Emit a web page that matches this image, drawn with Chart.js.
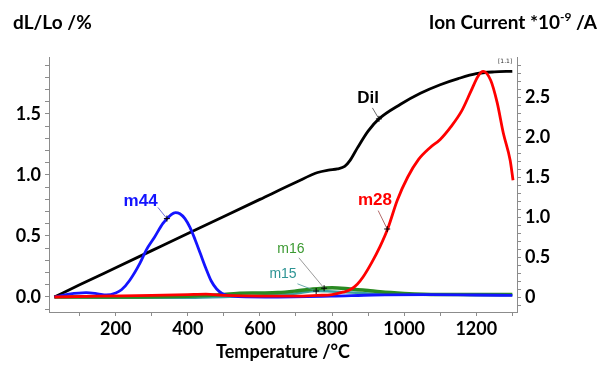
<!DOCTYPE html>
<html>
<head>
<meta charset="utf-8">
<script src="https://cdn.jsdelivr.net/npm/chart.js@4.4.1/dist/chart.umd.min.js"></script>
<style>
	html, body { margin: 0; padding: 0; background: #fff; }
	#wrap { width: 606px; height: 367px; }
</style>
</head>
<body>
<div id="wrap"><canvas id="chart"></canvas></div>
<script>
// Dilatometer curve, left axis (dL/Lo %)
const dilTemp = [30, 100, 200, 300, 400, 500, 600, 700, 760, 790, 815, 835, 850, 870, 900, 930, 990, 1045, 1100, 1150, 1200, 1250, 1300];
const dilValue = [0, 0.1, 0.24, 0.38, 0.52, 0.66, 0.8, 0.94, 1.02, 1.04, 1.05, 1.07, 1.12, 1.22, 1.36, 1.46, 1.58, 1.67, 1.74, 1.79, 1.83, 1.845, 1.85];

// Ion currents, right axis (*10^-9 A)
const m44Temp = [30, 70, 118, 150, 174, 200, 216, 239, 267, 285, 308, 331, 354, 366, 378, 392, 406, 420, 435, 450, 465, 480, 495, 512, 540, 650, 800, 914, 1072, 1200, 1300];
const m44Value = [0, 0.035, 0.054, 0.04, 0.025, 0.05, 0.09, 0.21, 0.42, 0.59, 0.75, 0.92, 1.03, 1.055, 1.04, 0.98, 0.87, 0.72, 0.54, 0.36, 0.2, 0.1, 0.045, 0.02, 0.005, 0.0, 0.01, 0.025, 0.03, 0.025, 0.02];

const m28Temp = [30, 150, 300, 400, 450, 500, 600, 700, 760, 800, 830, 850, 870, 886, 910, 933, 955, 981, 1010, 1040, 1070, 1100, 1130, 1160, 1185, 1205, 1219, 1240, 1258, 1275, 1294, 1302];
const m28Value = [0, 0.01, 0.02, 0.03, 0.035, 0.02, 0.01, 0.01, 0.02, 0.03, 0.06, 0.09, 0.16, 0.25, 0.43, 0.63, 0.86, 1.21, 1.5, 1.72, 1.86, 1.97, 2.13, 2.33, 2.57, 2.76, 2.82, 2.71, 2.43, 2.05, 1.71, 1.46];

const m16Temp = [30, 200, 400, 500, 536, 600, 650, 700, 747, 777, 800, 850, 900, 933, 1000, 1053, 1150, 1250, 1300];
const m16Value = [0, 0.0, 0.01, 0.03, 0.045, 0.05, 0.055, 0.075, 0.1, 0.11, 0.115, 0.1, 0.08, 0.065, 0.045, 0.035, 0.03, 0.03, 0.03];

const m15Temp = [30, 200, 400, 500, 600, 700, 756, 800, 900, 1000, 1100, 1200, 1300];
const m15Value = [0, -0.01, -0.01, 0.0, 0.02, 0.045, 0.075, 0.07, 0.045, 0.03, 0.03, 0.025, 0.025];

// Tick labels
const xMajor = [200, 400, 600, 800, 1000, 1200];
const xLabels = ["200", "400", "600", "800", "1000", "1200"];
const leftMajor = [0, 0.5, 1.0, 1.5];
const leftLabels = ["0.0", "0.5", "1.0", "1.5"];
const rightMajor = [0, 0.5, 1.0, 1.5, 2.0, 2.5];
const rightLabels = ["0", "0.5", "1.0", "1.5", "2.0", "2.5"];

// Curve labels with leader lines: [label point], [line start], [marker on curve]
const notes = [
	{ text: "Dil", color: "#000000", font: 'bold 17px "Liberation Sans"', axis: "yL", at: [900, 1.63], from: [912, 1.55], to: [930, 1.46], lead: "#444444" },
	{ text: "m44", color: "#1414ff", font: 'bold 17px "Liberation Sans"', axis: "yR", at: [269, 1.2], from: [317, 1.12], to: [342, 0.98], lead: "#4a4ad0" },
	{ text: "m28", color: "#ff0000", font: 'bold 17px "Liberation Sans"', axis: "yR", at: [919, 1.21], from: [928, 1.08], to: [953, 0.85], lead: "#a04848" },
	{ text: "m16", color: "#3c9a32", font: '14px "Liberation Sans"', axis: "yR", at: [686, 0.6], from: [708, 0.49], to: [778, 0.11], lead: "#808080" },
	{ text: "m15", color: "#2e9494", font: '14px "Liberation Sans"', axis: "yR", at: [664, 0.29], from: [704, 0.165], to: [756, 0.075], lead: "#4a9a9a" },
];

const TICK_FONT = { family: "Lato", size: 18, weight: "bold" };
const AXIS_GREY = "#8c8c8c";

const toPoints = (xs, ys) => xs.map((x, i) => ({ x, y: ys[i] }));

const labelFor = (majors, labels) => (value) => {
	const i = majors.findIndex((m) => Math.abs(m - value) < 1e-6);
	return i >= 0 ? labels[i] : "";
};

// major ticks plus unlabeled minor ticks
const buildTicks = (majors, step, from, to) => (scale) => {
	const ticks = [];
	for (let v = from; v <= to + 1e-9; v += step) {
		ticks.push({ value: Math.round(v * 1000) / 1000 });
	}
	majors.forEach((m) => {
		if (!ticks.some((t) => Math.abs(t.value - m) < 1e-6)) ticks.push({ value: m });
	});
	ticks.sort((a, b) => a.value - b.value);
	scale.ticks = ticks;
};

const series = (label, xs, ys, color, axis, width) => ({
	label,
	data: toPoints(xs, ys),
	borderColor: color,
	backgroundColor: color,
	borderWidth: width,
	pointRadius: 0,
	fill: false,
	cubicInterpolationMode: "monotone",
	yAxisID: axis,
});

const decorations = {
	id: "decorations",
	afterDatasetsDraw(chart) {
		const { ctx, scales } = chart;
		ctx.save();

		notes.forEach((n) => {
			const ys = scales[n.axis];
			const lx = scales.x.getPixelForValue(n.at[0]);
			const ly = ys.getPixelForValue(n.at[1]);
			const fx = scales.x.getPixelForValue(n.from[0]);
			const fy = ys.getPixelForValue(n.from[1]);
			const tx = scales.x.getPixelForValue(n.to[0]);
			const ty = ys.getPixelForValue(n.to[1]);

			ctx.strokeStyle = n.lead;
			ctx.lineWidth = 0.8;
			ctx.beginPath();
			ctx.moveTo(fx, fy);
			ctx.lineTo(tx, ty);
			ctx.stroke();

			// "+" marker on the curve
			ctx.strokeStyle = "#000";
			ctx.lineWidth = 1;
			ctx.beginPath();
			ctx.moveTo(tx - 3, ty);
			ctx.lineTo(tx + 3, ty);
			ctx.moveTo(tx, ty - 3);
			ctx.lineTo(tx, ty + 3);
			ctx.stroke();

			ctx.fillStyle = n.color;
			ctx.font = n.font;
			ctx.textAlign = "center";
			ctx.textBaseline = "middle";
			ctx.fillText(n.text, lx, ly);
		});

		// small segment tag at the end of the dilatation curve
		ctx.fillStyle = "#333";
		ctx.font = '6px "DejaVu Sans"';
		ctx.textAlign = "center";
		ctx.textBaseline = "middle";
		ctx.fillText("[1.1]", scales.x.getPixelForValue(1280), scales.yL.getPixelForValue(1.93));

		// axis titles above the plot
		ctx.fillStyle = "#000";
		ctx.textBaseline = "alphabetic";
		ctx.font = 'bold 19px "Lato"';
		ctx.textAlign = "left";
		ctx.fillText("dL/Lo /%", 13, 29);

		const right = 597;
		const big = 'bold 19px "Lato"';
		const small = 'bold 12px "Lato"';
		const partA = "Ion Current *10";
		const partB = "-9";
		const partC = " /A";
		ctx.font = big;
		const wA = ctx.measureText(partA).width;
		const wC = ctx.measureText(partC).width;
		ctx.font = small;
		const wB = ctx.measureText(partB).width;
		let x = right - wA - wB - wC;
		ctx.textAlign = "left";
		ctx.font = big;
		ctx.fillText(partA, x, 29);
		x += wA;
		ctx.font = small;
		ctx.fillText(partB, x, 21);
		x += wB;
		ctx.font = big;
		ctx.fillText(partC, x, 29);

		ctx.restore();
	},
};

const ctx = document.getElementById("chart").getContext("2d");

new Chart(ctx, {
	type: "line",
	data: {
		datasets: [
			series("m28", m28Temp, m28Value, "#ff0000", "yR", 2.8),
			series("m44", m44Temp, m44Value, "#1414ff", "yR", 2.8),
			series("Dil", dilTemp, dilValue, "#000000", "yL", 2.8),
			series("m16", m16Temp, m16Value, "#2a8a22", "yR", 3.5),
			series("m15", m15Temp, m15Value, "#3aa0a0", "yR", 2.5),
		],
	},
	options: {
		responsive: true,
		maintainAspectRatio: false,
		animation: false,
		layout: { padding: { top: 57, left: 0, right: 0, bottom: 0 } },
		plugins: {
			legend: { display: false },
			tooltip: { enabled: false },
		},
		scales: {
			x: {
				type: "linear",
				min: 15,
				max: 1313,
				afterBuildTicks: buildTicks(xMajor, 100, 100, 1300),
				afterFit: (s) => { s.height = 55; },
				ticks: {
					autoSkip: false,
					maxRotation: 0,
					padding: 2,
					color: "#000",
					font: TICK_FONT,
					callback: labelFor(xMajor, xLabels),
				},
				grid: { drawOnChartArea: false, tickLength: 4, color: AXIS_GREY },
				border: { color: AXIS_GREY },
				title: {
					display: true,
					text: "Temperature /°C",
					color: "#000",
					font: TICK_FONT,
					padding: { top: 0, bottom: 4 },
				},
			},
			yL: {
				type: "linear",
				position: "left",
				min: -0.123,
				max: 1.967,
				afterBuildTicks: buildTicks(leftMajor, 0.1, -0.1, 1.9),
				afterFit: (s) => { s.width = 49; },
				ticks: {
					autoSkip: false,
					padding: 4,
					color: "#000",
					font: TICK_FONT,
					callback: labelFor(leftMajor, leftLabels),
				},
				grid: { drawOnChartArea: false, tickLength: 4, color: AXIS_GREY },
				border: { color: AXIS_GREY },
			},
			yR: {
				type: "linear",
				position: "right",
				min: -0.1875,
				max: 3.0,
				afterBuildTicks: buildTicks(rightMajor, 0.1, -0.1, 2.9),
				afterFit: (s) => { s.width = 89; },
				ticks: {
					autoSkip: false,
					padding: 4,
					color: "#000",
					font: TICK_FONT,
					callback: labelFor(rightMajor, rightLabels),
				},
				grid: { drawOnChartArea: false, tickLength: 4, color: AXIS_GREY },
				border: { color: AXIS_GREY },
			},
		},
	},
	plugins: [decorations],
});
</script>
</body>
</html>
